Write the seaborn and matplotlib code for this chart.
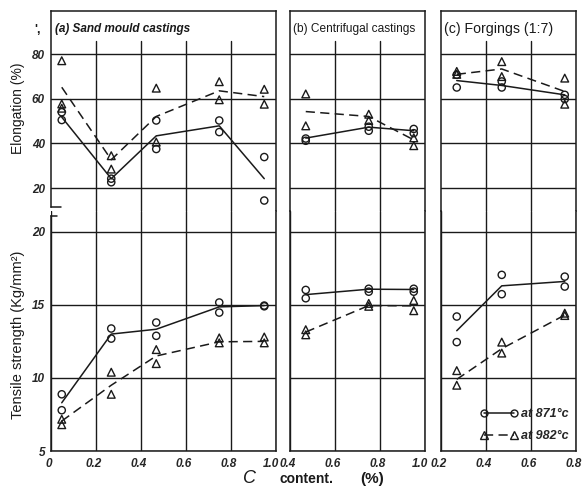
import matplotlib
matplotlib.use("Agg")
import matplotlib.pyplot as plt
import matplotlib.transforms as mtrans
import seaborn as sns
from matplotlib.lines import Line2D

# ---------------- data ----------------
# (a) Sand mould castings
a_el_871_x = [0.05, 0.05, 0.27, 0.27, 0.47, 0.47, 0.75, 0.75, 0.95, 0.95]
a_el_871_y = [54.0, 50.5, 24.2, 22.6, 50.3, 37.5, 50.3, 45.1, 33.9, 14.4]
a_el_982_x = [0.05, 0.05, 0.05, 0.27, 0.27, 0.47, 0.47, 0.75, 0.75, 0.95, 0.95]
a_el_982_y = [77.1, 57.7, 55.8, 34.5, 28.5, 64.8, 40.6, 67.7, 59.6, 64.3, 57.6]
a_fit_x = [0.05, 0.27, 0.47, 0.75, 0.95]
a_el_871_fit = [51.8, 24.2, 43.4, 47.9, 24.2]
a_el_982_fit = [65.2, 32.7, 52.1, 63.6, 61.0]
a_ts_871_x = [0.05, 0.05, 0.27, 0.27, 0.47, 0.47, 0.75, 0.75, 0.95, 0.95]
a_ts_871_y = [8.88, 7.79, 13.38, 12.69, 13.79, 12.88, 15.16, 14.47, 14.95, 14.9]
a_ts_982_x = [0.05, 0.05, 0.27, 0.27, 0.47, 0.47, 0.75, 0.75, 0.95, 0.95]
a_ts_982_y = [7.17, 6.8, 10.39, 8.88, 11.94, 10.98, 12.74, 12.4, 12.8, 12.4]
a_ts_871_fit = [8.3, 13.0, 13.33, 14.86, 14.95]
a_ts_982_fit = [7.05, 9.5, 11.5, 12.47, 12.5]

# (b) Centrifugal castings
b_x = [0.47, 0.47, 0.75, 0.75, 0.95, 0.95]
b_el_871_y = [42.2, 41.2, 47.5, 45.7, 46.5, 44.6]
b_el_982_y = [62.2, 47.9, 53.1, 50.3, 42.5, 39.0]
b_fit_x = [0.47, 0.75, 0.95]
b_el_871_fit = [42.4, 47.3, 45.7]
b_el_982_fit = [54.3, 52.1, 41.6]
b_ts_871_y = [16.02, 15.45, 16.1, 15.9, 16.1, 15.9]
b_ts_982_y = [13.3, 12.95, 15.1, 14.9, 15.3, 14.6]
b_ts_871_fit = [15.7, 16.07, 16.05]
b_ts_982_fit = [13.14, 14.95, 14.93]

# (c) Forgings (1:7)
c_x = [0.27, 0.27, 0.47, 0.47, 0.75, 0.75]
c_el_871_y = [70.8, 65.1, 67.8, 65.1, 61.8, 59.9]
c_el_982_y = [72.3, 71.0, 76.7, 70.0, 69.3, 57.6]
c_fit_x = [0.27, 0.47, 0.75]
c_el_871_fit = [68.2, 66.0, 61.8]
c_el_982_fit = [71.0, 73.4, 63.3]
c_ts_871_y = [14.2, 12.45, 17.05, 15.73, 16.93, 16.25]
c_ts_982_y = [10.5, 9.5, 12.45, 11.7, 14.43, 14.27]
c_ts_871_fit = [13.23, 16.3, 16.6]
c_ts_982_fit = [9.9, 12.0, 14.3]

panel_titles = ["(a) Sand mould castings", "(b) Centrifugal castings", "(c) Forgings (1:7)"]
xlims = [(0.0, 1.0), (0.4, 1.0), (0.2, 0.8)]
xticks = [[0, 0.2, 0.4, 0.6, 0.8, 1.0], [0.4, 0.6, 0.8, 1.0], [0.2, 0.4, 0.6, 0.8]]
xticklabels = [["0", "0.2", "0.4", "0.6", "0.8", "1.0"], ["0.4", "0.6", "0.8", "1.0"],
               ["0.2", "0.4", "0.6", "0.8"]]
el_ticks = [20, 40, 60, 80]
ts_ticks = [5, 10, 15, 20]
legend_labels = ["at 871°c", "at 982°c"]

# ---------------- styling ----------------
sns.set_theme(style="white")
plt.rcParams['font.family'] = ['Liberation Sans', 'DejaVu Sans']

W, H = 586, 486
fig = plt.figure(figsize=(W / 100, H / 100), dpi=100)

def fx(px):
    return px / W

def fy(py):
    return 1 - py / H

cols = [(50.5, 225), (290, 135), (441, 135)]
top_y0, top_y1 = 11, 211
bot_y0, bot_y1 = 211, 451

LW = 1.1
DASH = (0, (6, 3.5))

top_data = [
    (a_el_871_x, a_el_871_y, a_el_982_x, a_el_982_y, a_fit_x, a_el_871_fit, a_el_982_fit),
    (b_x, b_el_871_y, b_x, b_el_982_y, b_fit_x, b_el_871_fit, b_el_982_fit),
    (c_x, c_el_871_y, c_x, c_el_982_y, c_fit_x, c_el_871_fit, c_el_982_fit),
]
bot_data = [
    (a_ts_871_x, a_ts_871_y, a_ts_982_x, a_ts_982_y, a_fit_x, a_ts_871_fit, a_ts_982_fit),
    (b_x, b_ts_871_y, b_x, b_ts_982_y, b_fit_x, b_ts_871_fit, b_ts_982_fit),
    (c_x, c_ts_871_y, c_x, c_ts_982_y, c_fit_x, c_ts_871_fit, c_ts_982_fit),
]

def draw(ax, d):
    x1, y1, x2, y2, fxs, f1, f2 = d
    sns.scatterplot(x=x1, y=y1, ax=ax, marker='o', s=27, facecolor='none',
                    edgecolor='k', linewidth=1.0, legend=False, zorder=4)
    sns.scatterplot(x=x2, y=y2, ax=ax, marker='^', s=31, facecolor='none',
                    edgecolor='k', linewidth=1.0, legend=False, zorder=4)
    sns.lineplot(x=fxs, y=f1, ax=ax, color='k', linewidth=LW, legend=False,
                 estimator=None, zorder=3)
    sns.lineplot(x=fxs, y=f2, ax=ax, color='k', linewidth=LW, linestyle=DASH,
                 legend=False, estimator=None, zorder=3)

tickfont = dict(fontsize=8.5, fontweight='bold', fontstyle='italic')
ytickfont = dict(fontsize=8.5, fontweight='bold', fontstyle='italic')
title_sizes = [8.5, 8.6, 10.2]

def shift(px):
    return mtrans.ScaledTranslation(px / 100, 0, fig.dpi_scale_trans)

for i, (left, width) in enumerate(cols):
    axt = fig.add_axes([fx(left), fy(top_y1), width / W, (top_y1 - top_y0) / H])
    axb = fig.add_axes([fx(left), fy(bot_y1), width / W, (bot_y1 - bot_y0) / H])

    draw(axt, top_data[i])
    draw(axb, bot_data[i])

    for ax in (axt, axb):
        ax.set_xlim(*xlims[i])
        ax.set_xlabel("")
        ax.set_ylabel("")
        for sp in ax.spines.values():
            sp.set_color('k')
            sp.set_linewidth(1.1)
        ax.tick_params(length=0)
    axt.set_ylim(9.7, 99.4)
    axb.set_ylim(5, 21.42)
    axt.spines['bottom'].set_visible(False)
    axb.spines['top'].set_visible(False)

    # grids
    axt.set_yticks(el_ticks)
    axt.set_xticks(xticks[i])
    axt.grid(True, axis='y', color='k', linewidth=1.0)
    axt.grid(False, axis='x')
    for xv in xticks[i]:
        if xlims[i][0] < xv < xlims[i][1]:
            axt.axvline(xv, ymin=0, ymax=0.85, color='k', linewidth=1.0, zorder=1)
    axb.set_yticks(ts_ticks)
    axb.set_xticks(xticks[i])
    axb.grid(True, color='k', linewidth=1.0)
    axt.set_xticklabels([])
    axb.set_xticklabels(xticklabels[i], **tickfont)
    axb.tick_params(axis='x', pad=5)
    labs = axb.get_xticklabels()
    for j, lab in enumerate(labs):
        dx = -5 if (j == len(labs) - 1 and i < 2) else -2
        lab.set_transform(lab.get_transform() + shift(dx))

    if i == 0:
        axt.set_yticklabels([str(v) for v in el_ticks], **ytickfont)
        axb.set_yticklabels([str(v) for v in ts_ticks], **ytickfont)
        axt.tick_params(axis='y', pad=4)
        axb.tick_params(axis='y', pad=4)
        # broken left axis
        axt.spines['left'].set_bounds(11.5, 99.4)
        axb.spines['left'].set_bounds(5, 21.08)
        axt.plot([0, 0.045], [11.5, 11.5], transform=axt.get_yaxis_transform(),
                 color='k', lw=1.1, clip_on=False)
        axb.plot([0, 0.03], [21.08, 21.08], transform=axb.get_yaxis_transform(),
                 color='k', lw=1.1, clip_on=False)
    else:
        axt.set_yticklabels([])
        axb.set_yticklabels([])

    axt.text(0.022, 0.91, panel_titles[i], transform=axt.transAxes, fontsize=title_sizes[i],
             ha='left', va='center', fontstyle='italic' if i == 0 else 'normal',
             fontweight='bold' if i == 0 else 'normal', color='k')

    if i == 2:
        handles = [
            Line2D([], [], color='k', lw=LW, marker='o', ms=5, mfc='none', mec='k', mew=1.0),
            Line2D([], [], color='k', lw=LW, ls=DASH, marker='^', ms=5.5, mfc='none', mec='k', mew=1.0),
        ]
        axb.legend(handles, legend_labels, loc='lower right', bbox_to_anchor=(1.0, 0.005),
                   frameon=False, numpoints=2, handlelength=3.0, handletextpad=0.25,
                   labelspacing=0.8, borderaxespad=0.2,
                   prop=dict(size=9, weight='bold', style='italic'))

# axis labels
fig.text(fx(18), fy(108), "Elongation (%)", rotation=90, ha='center', va='center',
         fontsize=10, color='k')
fig.text(fx(18), fy(335), "Tensile strength (Kg/mm²)", rotation=90, ha='center',
         va='center', fontsize=10.5, color='k')
fig.text(fx(250), fy(478), "C", ha='center', va='center', fontsize=13, fontstyle='italic', color='k')
fig.text(fx(306), fy(479), "content.", ha='center', va='center', fontsize=10,
         fontweight='bold', color='k')
fig.text(fx(372), fy(479), "(%)", ha='center', va='center', fontsize=11,
         fontweight='bold', color='k')
fig.text(fx(38), fy(30), "',", ha='center', va='center', fontsize=9, fontweight='bold', color='k')

fig.savefig("out.png", dpi=100)
